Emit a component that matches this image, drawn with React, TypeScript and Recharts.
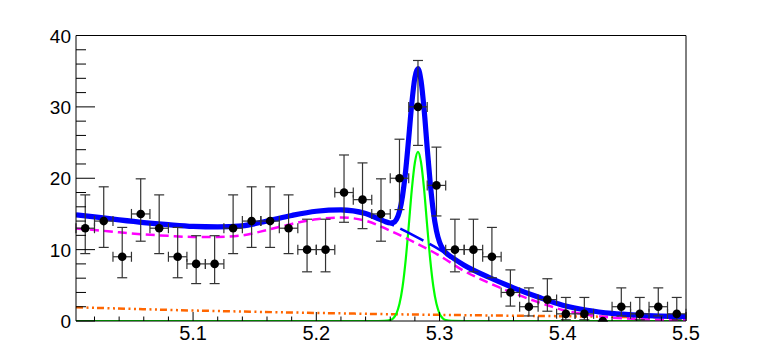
import React from 'react';
import { ComposedChart, Line, Scatter, XAxis, YAxis, ErrorBar, ReferenceLine } from 'recharts';

// Data points (33 bins of width 0.015 GeV from 5.005 to 5.5)
const binCenters = [5.0125, 5.0275, 5.0425, 5.0575, 5.0725, 5.0875, 5.1025, 5.1175, 5.1325, 5.1475, 5.1625, 5.1775, 5.1925, 5.2075, 5.2225, 5.2375, 5.2525, 5.2675, 5.2825, 5.2975, 5.3125, 5.3275, 5.3425, 5.3575, 5.3725, 5.3875, 5.4025, 5.4175, 5.4325, 5.4475, 5.4625, 5.4775, 5.4925];
const counts = [13, 14, 9, 15, 13, 9, 8, 8, 13, 14, 14, 13, 10, 10, 18, 17, 15, 20, 30, 19, 10, 10, 9, 4, 2, 3, 1, 1, 0, 2, 1, 2, 1];
const errLow = [3.56, 3.69, 2.94, 3.82, 3.56, 2.94, 2.76, 2.76, 3.56, 3.69, 3.69, 3.56, 3.11, 3.11, 4.17, 4.06, 3.82, 4.39, 5.4, 4.28, 3.11, 3.11, 2.94, 1.91, 1.29, 1.63, 0.83, 0.83, 0, 1.29, 0.83, 1.29, 0.83];
const errHigh = [4.67, 4.8, 4.11, 4.92, 4.67, 4.11, 3.95, 3.95, 4.67, 4.8, 4.8, 4.67, 4.26, 4.26, 5.26, 5.15, 4.92, 5.47, 6.5, 5.36, 4.26, 4.26, 4.11, 3.16, 2.64, 2.92, 2.3, 2.3, 0, 2.64, 2.3, 2.64, 2.3];
const halfBin = 0.0075;

// Background components
const bkgX = [5.005, 5.02, 5.04, 5.06, 5.08, 5.1, 5.12, 5.14, 5.16, 5.18, 5.2, 5.22, 5.24, 5.26, 5.28, 5.3, 5.32, 5.34, 5.36, 5.38, 5.4, 5.42, 5.44, 5.46, 5.48, 5.5];
const magentaY = [12.95, 12.75, 12.42, 12.13, 11.93, 11.78, 11.78, 12.0, 12.75, 13.6, 14.25, 14.5, 14.05, 12.65, 11.0, 9.15, 7.0, 5.35, 3.9, 2.65, 1.55, 0.88, 0.48, 0.28, 0.18, 0.12];
const bkgY = [14.87, 14.59, 14.17, 13.79, 13.49, 13.25, 13.18, 13.33, 14.01, 14.79, 15.38, 15.57, 15.06, 13.6, 11.9, 10.01, 7.82, 6.13, 4.65, 3.36, 2.22, 1.51, 1.07, 0.83, 0.69, 0.6];

const orangeX = [5.005, 5.05, 5.1, 5.15, 5.2, 5.25, 5.3, 5.35, 5.4, 5.45, 5.5];
const orangeY = [1.92, 1.7, 1.47, 1.29, 1.13, 0.98, 0.86, 0.76, 0.67, 0.57, 0.48];

// Signal
const signalX = [5.005, 5.24, 5.25, 5.255, 5.26, 5.2625, 5.265, 5.2675, 5.27, 5.2725, 5.275, 5.2775, 5.28, 5.2825, 5.285, 5.2875, 5.29, 5.2925, 5.295, 5.2975, 5.3, 5.3025, 5.305, 5.31, 5.32, 5.5];
const signalY = [0, 0, 0, 0.01, 0.13, 0.4, 1.04, 2.4, 4.8, 8.5, 13.3, 18.4, 22.2, 23.7, 22.2, 18.4, 13.3, 8.5, 4.8, 2.4, 1.04, 0.4, 0.13, 0.01, 0, 0];

// Total fit
const totalX = [5.005, 5.02, 5.04, 5.06, 5.08, 5.1, 5.12, 5.14, 5.16, 5.18, 5.2, 5.22, 5.24, 5.25, 5.255, 5.26, 5.2625, 5.265, 5.2675, 5.27, 5.2725, 5.275, 5.2775, 5.28, 5.2825, 5.285, 5.2875, 5.29, 5.2925, 5.295, 5.2975, 5.3, 5.3025, 5.305, 5.31, 5.32, 5.34, 5.36, 5.38, 5.4, 5.42, 5.44, 5.46, 5.48, 5.5];
const totalY = [14.87, 14.59, 14.17, 13.79, 13.49, 13.25, 13.18, 13.33, 14.01, 14.79, 15.38, 15.57, 15.06, 14.35, 13.99, 13.73, 13.79, 14.22, 15.36, 17.55, 21.04, 25.63, 30.51, 34.1, 35.36, 33.63, 29.59, 24.25, 19.22, 15.28, 12.65, 11.05, 10.14, 9.59, 8.93, 7.82, 6.13, 4.65, 3.36, 2.22, 1.51, 1.07, 0.83, 0.69, 0.6];

// Axis ticks
const xTicks = [5.02, 5.04, 5.06, 5.08, 5.1, 5.12, 5.14, 5.16, 5.18, 5.2, 5.22, 5.24, 5.26, 5.28, 5.3, 5.32, 5.34, 5.36, 5.38, 5.4, 5.42, 5.44, 5.46, 5.48, 5.5];
const xMajor = [5.1, 5.2, 5.3, 5.4, 5.5];
const xLabels = ['5.1', '5.2', '5.3', '5.4', '5.5'];
const yTicks = [0, 2, 4, 6, 8, 10, 12, 14, 16, 18, 20, 22, 24, 26, 28, 30, 32, 34, 36, 38, 40];
const yMajor = [0, 10, 20, 30, 40];
const yLabels = ['0', '10', '20', '30', '40'];

const toXY = (xs: number[], ys: number[]) => xs.map((x, i) => ({ x, y: ys[i] }));

const points = binCenters.map((x, i) => ({
  x,
  y: counts[i],
  ey: [errLow[i], errHigh[i]],
  ex: counts[i] > 0 ? halfBin : 0,
}));

const FONT = '"Liberation Sans", Arial, Helvetica, sans-serif';

const YTick = (props: any) => {
  const { x, y, payload } = props;
  const idx = yMajor.findIndex((m) => Math.abs(m - payload.value) < 1e-6);
  const major = idx >= 0;
  return (
    <g>
      <line x1={x} x2={x + (major ? 19 : 10)} y1={y} y2={y} stroke="#000" strokeWidth={1} />
      {major && (
        <text x={x - 5} y={y + 7} textAnchor="end" fontSize={19} fontFamily={FONT} fill="#000">
          {yLabels[idx]}
        </text>
      )}
    </g>
  );
};

const XTick = (props: any) => {
  const { x, y, payload } = props;
  const idx = xMajor.findIndex((m) => Math.abs(m - payload.value) < 1e-6);
  const major = idx >= 0;
  return (
    <g>
      <line x1={x} x2={x} y1={y} y2={y - (major ? 9 : 4.5)} stroke="#000" strokeWidth={1} />
      {major && (
        <text x={x} y={y + 19} textAnchor="middle" fontSize={20} fontFamily={FONT} fill="#000">
          {xLabels[idx]}
        </text>
      )}
    </g>
  );
};

const Marker = (p: any) => <circle cx={p.cx} cy={p.cy} r={4.3} fill="#000" />;

export default function App() {
  return (
    <div style={{ position: 'absolute', left: 0, top: 0, background: '#fff' }}>
      <ComposedChart width={763} height={357} margin={{ top: 35.5, right: 77, bottom: 0, left: 0 }}>
        <XAxis
          dataKey="x"
          type="number"
          domain={[5.005, 5.5]}
          ticks={xTicks}
          interval={0}
          allowDataOverflow
          height={36}
          tickSize={0}
          tickMargin={0}
          tickLine={false}
          axisLine={{ stroke: '#000', strokeWidth: 1 }}
          tick={<XTick />}
        />
        <YAxis
          dataKey="y"
          type="number"
          domain={[0, 40]}
          ticks={yTicks}
          interval={0}
          allowDataOverflow
          width={76}
          tickSize={0}
          tickMargin={0}
          tickLine={false}
          axisLine={{ stroke: '#000', strokeWidth: 1 }}
          tick={<YTick />}
        />
        <ReferenceLine y={40} stroke="#000" strokeWidth={1} />
        <ReferenceLine x={5.5} stroke="#000" strokeWidth={1} />
        <Line data={toXY(orangeX, orangeY)} dataKey="y" type="monotone" stroke="#ff6600" strokeWidth={2.5} strokeDasharray="7 3.5 2 3.5 2 3" dot={false} isAnimationActive={false} />
        <Line data={toXY(signalX, signalY)} dataKey="y" type="monotone" stroke="#00ff00" strokeWidth={2.2} dot={false} isAnimationActive={false} />
        <Line data={toXY(bkgX, magentaY)} dataKey="y" type="monotone" stroke="#ff00ff" strokeWidth={2.5} strokeDasharray="9 5" dot={false} isAnimationActive={false} />
        <Line data={toXY(bkgX, bkgY)} dataKey="y" type="monotone" stroke="#0000ff" strokeWidth={2.5} strokeDasharray="26 7" dot={false} isAnimationActive={false} />
        <Line data={toXY(totalX, totalY)} dataKey="y" type="monotone" stroke="#0000ff" strokeWidth={5.2} dot={false} isAnimationActive={false} />
        <Scatter data={points} dataKey="y" shape={<Marker />} isAnimationActive={false}>
          <ErrorBar dataKey="ey" direction="y" width={5} stroke="#333" strokeWidth={1.2} />
          <ErrorBar dataKey="ex" direction="x" width={5} stroke="#333" strokeWidth={1.2} />
        </Scatter>
      </ComposedChart>
    </div>
  );
}
